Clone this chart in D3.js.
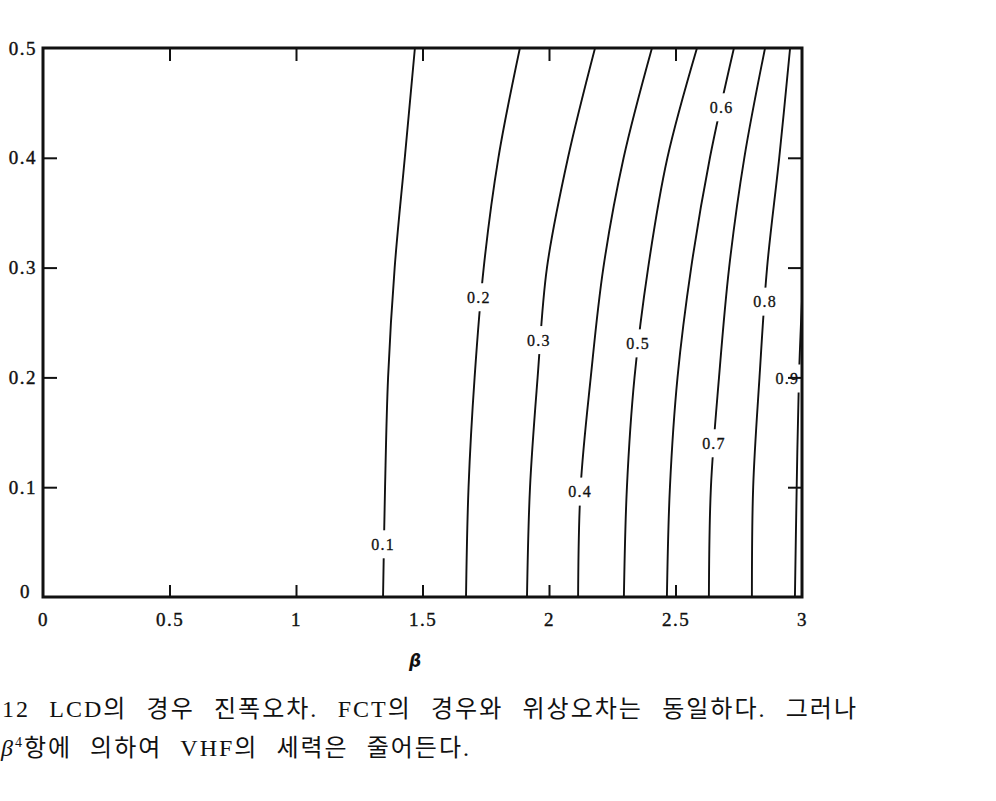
<!DOCTYPE html>
<html><head><meta charset="utf-8">
<script src="https://cdn.jsdelivr.net/npm/d3@7"></script>
<style>body{margin:0;background:#fff}</style>
</head><body>
<svg id="chart" width="996" height="801"></svg>
<script>
// ---- data ----
const xTicks = [0, 0.5, 1, 1.5, 2, 2.5, 3];
const yTicks = [0, 0.1, 0.2, 0.3, 0.4, 0.5];
const levels = [0.1, 0.2, 0.3, 0.4, 0.5, 0.6, 0.7, 0.8, 0.9];
// contour lines: [beta, y] points
const line01 = [[1.344,0],[1.352,0.1],[1.364,0.2],[1.390,0.3],[1.430,0.4],[1.470,0.5]];
const line02 = [[1.672,0],[1.682,0.1],[1.706,0.2],[1.742,0.3],[1.800,0.4],[1.885,0.5]];
const line03 = [[1.913,0],[1.925,0.1],[1.955,0.2],[1.992,0.3],[2.075,0.4],[2.182,0.5]];
const line04 = [[2.115,0],[2.125,0.1],[2.165,0.2],[2.215,0.3],[2.295,0.4],[2.407,0.5]];
const line05 = [[2.296,0],[2.308,0.1],[2.338,0.2],[2.392,0.3],[2.468,0.4],[2.585,0.5]];
const line06 = [[2.466,0],[2.478,0.1],[2.508,0.2],[2.562,0.3],[2.636,0.4],[2.731,0.5]];
const line07 = [[2.632,0],[2.640,0.1],[2.672,0.2],[2.712,0.3],[2.772,0.4],[2.854,0.5]];
const line08 = [[2.802,0],[2.807,0.1],[2.832,0.2],[2.862,0.3],[2.910,0.4],[2.953,0.5]];
const line09 = [[2.972,0],[2.979,0.1],[2.988,0.2],[3.000,0.27]];
const contourLines = [line01, line02, line03, line04, line05, line06, line07, line08, line09];
// label anchor points [beta, y]
const labelPos = [[1.344,0.048],[1.723,0.273],[1.960,0.234],[2.123,0.096],[2.352,0.231],
                  [2.682,0.446],[2.652,0.140],[2.854,0.269],[2.942,0.199]];
const xTitle = "β";
const caption1 = "12 LCD의 경우 진폭오차. FCT의 경우와 위상오차는 동일하다. 그러나";
const caption2a = "β";
const caption2b = "4";
const caption2c = "항에 의하여 VHF의 세력은 줄어든다.";

// ---- drawing ----
const svg = d3.select("#chart");
svg.append("rect").attr("width", 996).attr("height", 801).attr("fill", "#fff");
const L = 43, R = 802, T = 48, B = 597;
const x = d3.scaleLinear().domain([0, 3]).range([L, R]);
const y = d3.scaleLinear().domain([0, 0.5]).range([B, T]);
const serif = "'Liberation Serif','Times New Roman',serif";

svg.append("clipPath").attr("id", "clip").append("rect")
  .attr("x", L).attr("y", T).attr("width", R - L).attr("height", B - T);

const line = d3.line().x(d => x(d[0])).y(d => y(d[1])).curve(d3.curveCatmullRom.alpha(0.5));
const gl = svg.append("g").attr("clip-path", "url(#clip)");
gl.selectAll("path").data(contourLines).join("path")
  .attr("d", line).attr("fill", "none").attr("stroke", "#111").attr("stroke-width", 1.9);

// contour labels with white gaps
const lg = svg.append("g").attr("clip-path", "url(#clip)");
const lab = lg.selectAll("g").data(levels).join("g")
  .attr("transform", (d, i) => `translate(${x(labelPos[i][0])},${y(labelPos[i][1])})`);
lab.append("rect").attr("x", -15).attr("y", -14).attr("width", 30).attr("height", 28).attr("fill", "#fff");
lab.append("text").text(d => d.toFixed(1))
  .attr("text-anchor", "middle").attr("dy", "0.35em")
  .attr("font-family", serif).attr("font-size", 16).attr("letter-spacing", 1.2)
  .attr("stroke", "#111").attr("stroke-width", 0.3)
  .attr("fill", "#111");

// axes
function styleAxis(g) {
  g.select(".domain").remove();
  g.selectAll(".tick line").attr("stroke", "#111").attr("stroke-width", 2);
  g.selectAll(".tick text").attr("font-family", serif).attr("font-size", 19)
    .attr("letter-spacing", 1.5).attr("fill", "#111")
    .attr("stroke", "#111").attr("stroke-width", 0.4);
}
const fmt = d => String(d);
const gx = svg.append("g").attr("transform", `translate(0,${B})`)
  .call(d3.axisBottom(x).tickValues(xTicks).tickFormat(fmt).tickSizeInner(-12).tickSizeOuter(0).tickPadding(16))
  .call(styleAxis);
gx.selectAll(".tick line").filter(d => d === 0 || d === 3).remove();

svg.append("g").attr("transform", `translate(0,${T})`)
  .call(d3.axisTop(x).tickValues(xTicks.slice(1, -1)).tickFormat("").tickSizeInner(-13).tickSizeOuter(0))
  .call(styleAxis);

const gy = svg.append("g").attr("transform", `translate(${L},0)`)
  .call(d3.axisLeft(y).tickValues(yTicks).tickFormat(fmt).tickSizeInner(-14).tickSizeOuter(0).tickPadding(6))
  .call(styleAxis);
gy.selectAll(".tick line").filter(d => d === 0 || d === 0.5).remove();
gy.selectAll(".tick").filter(d => d === 0).select("text").attr("dy", "0.05em").attr("x", -12);

svg.append("g").attr("transform", `translate(${R},0)`)
  .call(d3.axisRight(y).tickValues(yTicks.slice(1, -1)).tickFormat("").tickSizeInner(-14).tickSizeOuter(0))
  .call(styleAxis);

// frame
svg.append("rect").attr("x", L).attr("y", T).attr("width", R - L).attr("height", B - T)
  .attr("fill", "none").attr("stroke", "#111").attr("stroke-width", 3);

// axis title
svg.append("text").text(xTitle).attr("x", 415).attr("y", 667)
  .attr("font-family", "'DejaVu Sans',sans-serif").attr("font-style", "italic").attr("font-weight", "bold")
  .attr("font-size", 17).attr("text-anchor", "middle").attr("fill", "#111");

// caption: fit widths with word spacing
const capFont = "'Liberation Serif','Noto Sans CJK KR',serif";
function fitWords(t, target, gaps) {
  const w = t.node().getComputedTextLength();
  t.attr("word-spacing", Math.max(0, (target - w) / gaps));
}
const c1 = svg.append("text").text(caption1).attr("x", 2).attr("y", 717)
  .attr("font-family", capFont).attr("font-size", 24).attr("letter-spacing", 2).attr("fill", "#111");
fitWords(c1, 856, 8);
const c2 = svg.append("text").attr("x", 1).attr("y", 756)
  .attr("font-family", capFont).attr("font-size", 24).attr("letter-spacing", 2).attr("fill", "#111");
c2.append("tspan").text(caption2a).attr("font-style", "italic");
c2.append("tspan").text(caption2b).attr("font-size", 14).attr("dy", -9);
c2.append("tspan").text(caption2c).attr("dy", 9);
fitWords(c2, 470, 4);
</script>
</body></html>
